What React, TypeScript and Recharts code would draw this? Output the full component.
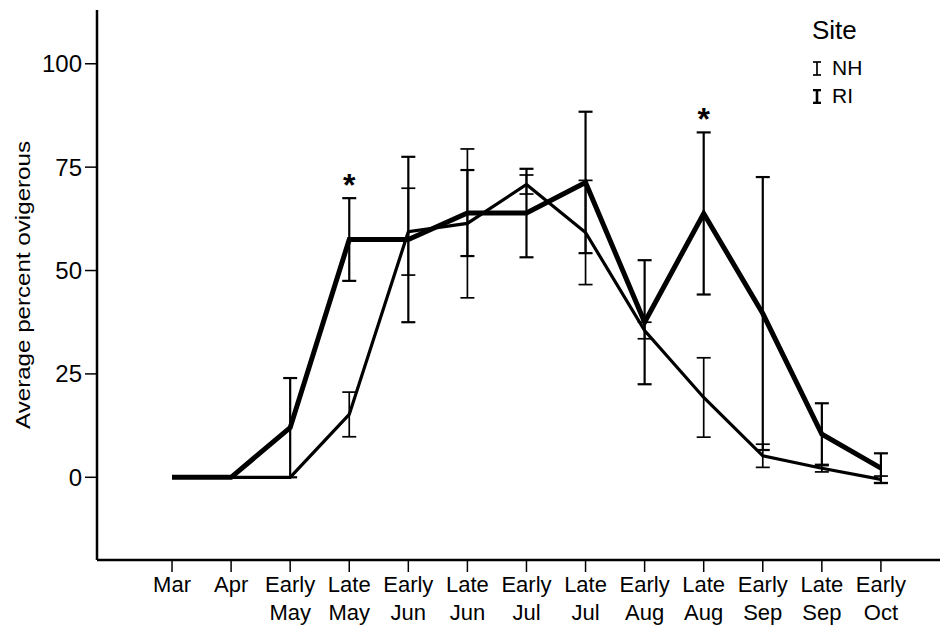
import React from "react";
import {
  LineChart,
  Line,
  XAxis,
  YAxis,
  ErrorBar,
  Legend,
  ReferenceDot,
} from "recharts";

// period labels, two lines each
const periodTop = ["Mar", "Apr", "Early", "Late", "Early", "Late", "Early", "Late", "Early", "Late", "Early", "Late", "Early"];
const periodBottom = ["", "", "May", "May", "Jun", "Jun", "Jul", "Jul", "Aug", "Aug", "Sep", "Sep", "Oct"];

// average percent ovigerous per site, with error half-widths
const nhMean = [0, 0, 0, 15.2, 59.4, 61.4, 70.8, 59.2, 35.5, 19.3, 5.2, 2.2, -0.5];
const nhErr = [0, 0, 0, 5.4, 10.5, 18, 2.3, 12.6, 2, 9.6, 2.8, 0.9, 0.8];
const riMean = [0, 0, 12, 57.5, 57.5, 63.9, 63.9, 71.3, 37.5, 63.8, 39.6, 10.4, 2.2];
const riErr = [0, 0, 12, 10, 20, 10.4, 10.7, 17.1, 15, 19.6, 33, 7.5, 3.6];

// periods where the sites differ significantly
const significant = [3, 9];

const yTicks = [0, 25, 50, 75, 100];

const data = periodTop.map((_, i) => ({
  idx: i,
  NH: nhMean[i],
  nhErr: nhErr[i],
  RI: riMean[i],
  riErr: riErr[i],
}));

const FONT = '"Liberation Sans", Arial, sans-serif';
const siteWidth: Record<string, number> = { NH: 1.7, RI: 2.6 };

const PeriodTick = (props: any) => {
  const { x, y, payload } = props;
  const i = payload.value;
  return (
    <g>
      <text x={x} y={y + 18} textAnchor="middle" fontSize={22} fill="#000">
        {periodTop[i]}
      </text>
      <text x={x} y={y + 46} textAnchor="middle" fontSize={22} fill="#000">
        {periodBottom[i]}
      </text>
    </g>
  );
};

const YTitle = (props: any) => {
  const { viewBox } = props;
  const cx = viewBox.x + 22;
  const cy = viewBox.y + viewBox.height / 2;
  return (
    <text
      x={cx}
      y={cy}
      textAnchor="middle"
      dominantBaseline="central"
      fontSize={21}
      fill="#000"
      textLength={288}
      lengthAdjust="spacingAndGlyphs"
      transform={`rotate(-90, ${cx}, ${cy})`}
    >
      Average percent ovigerous
    </text>
  );
};

const Star = (props: any) => {
  const { x, y } = props.viewBox;
  return (
    <text x={x} y={y - 2} textAnchor="middle" fontSize={32} fontWeight="bold" fill="#000">
      *
    </text>
  );
};

const SiteLegend = (props: any) => {
  const { payload } = props;
  return (
    <div style={{ fontFamily: FONT, color: "#000" }}>
      <div style={{ fontSize: 26, lineHeight: "28px", marginBottom: 10 }}>Site</div>
      {(payload || []).map((entry: any) => (
        <div key={entry.value} style={{ display: "flex", alignItems: "center", fontSize: 21, lineHeight: "28px" }}>
          <svg width={10} height={15} style={{ marginRight: 10 }}>
            <line x1={5} y1={1} x2={5} y2={14} stroke="#000" strokeWidth={siteWidth[entry.value]} />
            <line x1={1} y1={1} x2={9} y2={1} stroke="#000" strokeWidth={siteWidth[entry.value]} />
            <line x1={1} y1={14} x2={9} y2={14} stroke="#000" strokeWidth={siteWidth[entry.value]} />
          </svg>
          <span>{entry.value}</span>
        </div>
      ))}
    </div>
  );
};

export default function App() {
  return (
    <div style={{ position: "absolute", left: 0, top: 0, width: 946, height: 628, background: "#fff", fontFamily: FONT }}>
      <LineChart width={946} height={628} data={data} margin={{ top: 10, right: 6, left: 0, bottom: 0 }}>
        <XAxis
          dataKey="idx"
          type="number"
          domain={[-1.27, 13]}
          allowDataOverflow
          ticks={periodTop.map((_, i) => i)}
          interval={0}
          height={68}
          tickSize={12}
          tick={<PeriodTick />}
          axisLine={{ stroke: "#000", strokeWidth: 2.5 }}
          tickLine={{ stroke: "#000", strokeWidth: 1.5 }}
        />
        <YAxis
          type="number"
          domain={[-20, 113]}
          allowDataOverflow
          ticks={yTicks}
          width={97}
          tickSize={12}
          tickMargin={3}
          tick={{ fontSize: 24, fill: "#000" }}
          axisLine={{ stroke: "#000", strokeWidth: 2.5 }}
          tickLine={{ stroke: "#000", strokeWidth: 1.5 }}
          label={<YTitle />}
        />
        <Legend
          layout="vertical"
          align="center"
          verticalAlign="middle"
          content={<SiteLegend />}
          wrapperStyle={{ position: "absolute", top: 16, left: 812, width: 120 }}
        />
        <Line
          type="linear"
          dataKey="NH"
          name="NH"
          stroke="#000"
          strokeWidth={3.2}
          dot={false}
          isAnimationActive={false}
        >
          <ErrorBar dataKey="nhErr" direction="y" width={7} stroke="#000" strokeWidth={1.7} isAnimationActive={false} />
        </Line>
        <Line
          type="linear"
          dataKey="RI"
          name="RI"
          stroke="#000"
          strokeWidth={5}
          dot={false}
          isAnimationActive={false}
        >
          <ErrorBar dataKey="riErr" direction="y" width={7} stroke="#000" strokeWidth={2.2} isAnimationActive={false} />
        </Line>
        {significant.map((i) => (
          <ReferenceDot
            key={i}
            x={i}
            y={riMean[i] + riErr[i]}
            r={0}
            fill="none"
            stroke="none"
            label={<Star />}
          />
        ))}
      </LineChart>
    </div>
  );
}
